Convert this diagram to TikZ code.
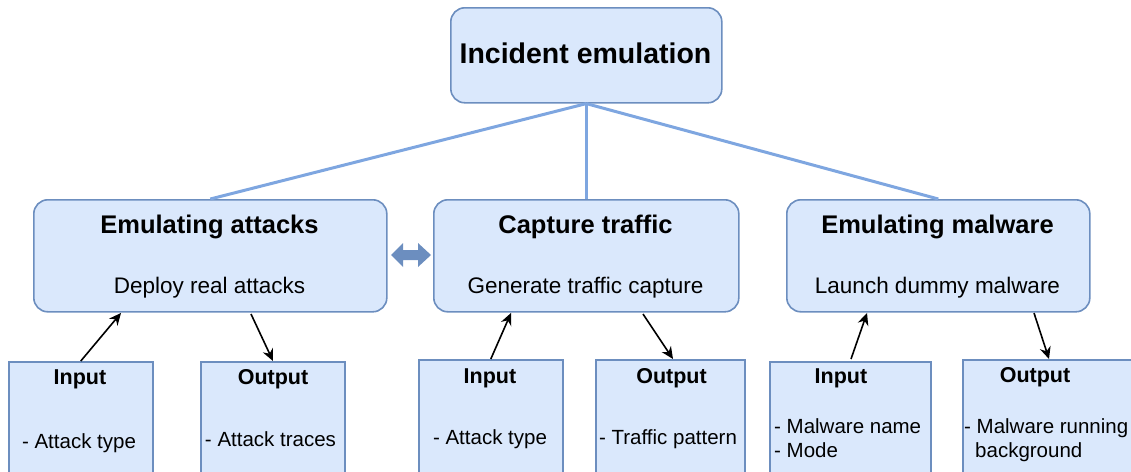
\documentclass[tikz,border=0pt]{standalone}
\usepackage{fontspec}
\setmainfont{Liberation Sans}
\usetikzlibrary{arrows.meta}
\definecolor{boxfill}{HTML}{DAE8FC}
\definecolor{boxline}{HTML}{6C8EBF}
\definecolor{treeline}{HTML}{7EA6E0}
\tikzset{
  rbox/.style={draw=boxline, fill=boxfill, line width=1.6pt, rounded corners=14pt, inner sep=0pt, anchor=north west},
  sbox/.style={draw=boxline, fill=boxfill, line width=1.6pt, inner sep=0pt, anchor=north west},
  tree/.style={draw=treeline, line width=3pt},
  flow/.style={draw=black, line width=1.6pt, -{Stealth[length=12pt,width=11pt]}},
  txt/.style={inner sep=0pt, anchor=base},
  ftop/.style={font=\bfseries\fontsize{28.5}{32}\selectfont},
  fhead/.style={font=\bfseries\fontsize{25.5}{28}\selectfont},
  fsub/.style={font=\fontsize{22.5}{24}\selectfont},
  fsmallhead/.style={font=\bfseries\fontsize{21.5}{24}\selectfont},
  fbody/.style={font=\fontsize{20.5}{24}\selectfont},
}
\begin{document}
\begin{tikzpicture}[x=1pt,y=-1pt]
\useasboundingbox (0,0) rectangle (1131,471);
% top
\node[rbox, minimum width=271pt, minimum height=95pt] (top) at (450,7) {};
\node[txt, ftop] (toptxt) at (585.5,63) {Incident emulation};
% middle boxes
\node[rbox, minimum width=353pt, minimum height=112pt] (m1) at (33,199) {};
\node[rbox, minimum width=305pt, minimum height=112pt] (m2) at (433,199) {};
\node[rbox, minimum width=303pt, minimum height=112pt] (m3) at (786,199) {};
\node[txt, fhead] (m1t) at (209.5,233) {Emulating attacks};
\node[txt, fsub] (m1s) at (209.5,293) {Deploy real attacks};
\node[txt, fhead] (m2t) at (585.5,233) {Capture traffic};
\node[txt, fsub] (m2s) at (585.5,293) {Generate traffic capture};
\node[txt, fhead] (m3t) at (937.5,233) {Emulating malware};
\node[txt, fsub] (m3s) at (937.5,293) {Launch dummy malware};
% tree lines
\draw[tree] (top.south) -- (m1.north);
\draw[tree] (top.south) -- (m2.north);
\draw[tree] (top.south) -- (m3.north);
% double block arrow
\fill[boxline] (391,255) -- (403,243) -- (403,250) -- (418,250) -- (418,243) -- (431,255)
  -- (418,267) -- (418,260) -- (403,260) -- (403,267) -- cycle;
% bottom boxes
\node[sbox, minimum width=144pt, minimum height=120pt] (i1) at (8,361) {};
\node[sbox, minimum width=144pt, minimum height=120pt] (o1) at (200,361) {};
\node[sbox, minimum width=144pt, minimum height=120pt] (i2) at (418,359) {};
\node[sbox, minimum width=149pt, minimum height=120pt] (o2) at (595,359) {};
\node[sbox, minimum width=161pt, minimum height=120pt] (i3) at (769,361) {};
\node[sbox, minimum width=190pt, minimum height=120pt] (o3) at (962,359) {};
% bottom texts
\node[txt, fsmallhead] (i1t) at (80,384) {Input};
\node[txt, fbody] (i1b) at (79,448) {- Attack type};
\node[txt, fsmallhead] (o1t) at (273,384) {Output};
\node[txt, fbody] (o1b) at (270.5,446) {- Attack traces};
\node[txt, fsmallhead] (i2t) at (490,383) {Input};
\node[txt, fbody] (i2b) at (490,444) {- Attack type};
\node[txt, fsmallhead] (o2t) at (671.5,383) {Output};
\node[txt, fbody] (o2b) at (668,444) {- Traffic pattern};
\node[txt, fsmallhead] (i3t) at (841,383) {Input};
\node[txt, fbody, anchor=base west] (i3b) at (774,433) {- Malware name};
\node[txt, fbody, anchor=base west] (i3c) at (774,457) {- Mode};
\node[txt, fsmallhead] (o3t) at (1035,382) {Output};
\node[txt, fbody, anchor=base west] (o3b) at (964,433) {- Malware running};
\node[txt, fbody, anchor=base west] (o3c) at (975,457) {background};
% arrow ends
\coordinate (a1) at (121,313);
\coordinate (b1) at (251,314);
\coordinate (c1) at (273,361);
\coordinate (a2) at (511,313);
\coordinate (b2) at (643,314);
\coordinate (c2) at (673,359);
\coordinate (a3) at (867,313);
\coordinate (a3s) at (851,359);
\coordinate (b3) at (1034,313);
\coordinate (c3) at (1049,359);
\draw[flow] (i1.north) -- (a1);
\draw[flow] (b1) -- (c1);
\draw[flow] (i2.north) -- (a2);
\draw[flow] (b2) -- (c2);
\draw[flow] (a3s) -- (a3);
\draw[flow] (b3) -- (c3);
\end{tikzpicture}
\end{document}
